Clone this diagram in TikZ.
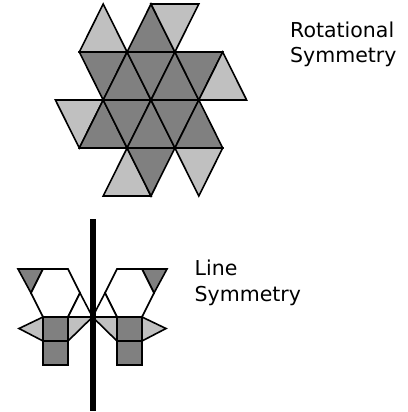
\documentclass[tikz,border=0pt]{standalone}
\usepackage{fontspec}
\newfontfamily\labfont{DejaVu Sans}
\definecolor{darkfill}{HTML}{808080}
\definecolor{lightfill}{HTML}{C0C0C0}
\begin{document}
\begin{tikzpicture}[x=1pt,y=-1pt,
  piece/.style={draw=black,line width=1.6pt,line join=miter},
  darkpiece/.style={piece,fill=darkfill},
  lightpiece/.style={piece,fill=lightfill},
  whitepiece/.style={piece,fill=white},
  lab/.style={anchor=base west,align=left,inner sep=0pt,font=\labfont\fontsize{20.5}{25}\selectfont}]
\useasboundingbox (0,0) rectangle (407,412);
% grid for the rotational figure
\foreach \k in {0,...,8}{
  \foreach \r in {0,...,4}{
    \coordinate (p-\k-\r) at ({55.4+23.9*\k},{4+48*\r});
  }
}
% row 0
\filldraw[lightpiece] (p-2-0) -- (p-1-1) -- (p-3-1) -- cycle;
\filldraw[darkpiece]  (p-4-0) -- (p-3-1) -- (p-5-1) -- cycle;
\filldraw[lightpiece] (p-4-0) -- (p-6-0) -- (p-5-1) -- cycle;
% row 1
\filldraw[darkpiece]  (p-1-1) -- (p-3-1) -- (p-2-2) -- cycle;
\filldraw[darkpiece]  (p-3-1) -- (p-2-2) -- (p-4-2) -- cycle;
\filldraw[darkpiece]  (p-3-1) -- (p-5-1) -- (p-4-2) -- cycle;
\filldraw[darkpiece]  (p-5-1) -- (p-4-2) -- (p-6-2) -- cycle;
\filldraw[darkpiece]  (p-5-1) -- (p-7-1) -- (p-6-2) -- cycle;
\filldraw[lightpiece] (p-7-1) -- (p-6-2) -- (p-8-2) -- cycle;
% row 2
\filldraw[lightpiece] (p-0-2) -- (p-2-2) -- (p-1-3) -- cycle;
\filldraw[darkpiece]  (p-2-2) -- (p-1-3) -- (p-3-3) -- cycle;
\filldraw[darkpiece]  (p-2-2) -- (p-4-2) -- (p-3-3) -- cycle;
\filldraw[darkpiece]  (p-4-2) -- (p-3-3) -- (p-5-3) -- cycle;
\filldraw[darkpiece]  (p-4-2) -- (p-6-2) -- (p-5-3) -- cycle;
\filldraw[darkpiece]  (p-6-2) -- (p-5-3) -- (p-7-3) -- cycle;
% row 3
\filldraw[lightpiece] (p-3-3) -- (p-2-4) -- (p-4-4) -- cycle;
\filldraw[darkpiece]  (p-3-3) -- (p-5-3) -- (p-4-4) -- cycle;
\filldraw[lightpiece] (p-5-3) -- (p-7-3) -- (p-6-4) -- cycle;

% line symmetry figure: left half and its mirror image
\foreach \sx/\dx in {1/0,-1/185}{
  \begin{scope}[shift={(\dx,0)},xscale=\sx]
    \filldraw[darkpiece]  (18,269) -- (43,269) -- (31,293) -- cycle;
    \filldraw[whitepiece] (43,269) -- (68,269) -- (80,293) -- (68,317) -- (43,317) -- (31,293) -- cycle;
    \filldraw[whitepiece] (68,317) -- (80,293) -- (92.5,317) -- cycle;
    \filldraw[lightpiece] (43,317) -- (19,328.5) -- (43,341) -- cycle;
    \filldraw[lightpiece] (68,317) -- (92.5,317) -- (68,341) -- cycle;
    \filldraw[darkpiece]  (43,317) rectangle (68,341);
    \filldraw[darkpiece]  (43,341) rectangle (68,365);
  \end{scope}
}
% mirror line
\fill[black] (89.5,219) rectangle (95.5,411);

% labels
\node[lab] (rot) at (290,62.7) {Rotational\\Symmetry};
\node[lab,font=\labfont\fontsize{20.5}{26.6}\selectfont] (line) at (194.5,301.7) {Line\\Symmetry};
\end{tikzpicture}
\end{document}
